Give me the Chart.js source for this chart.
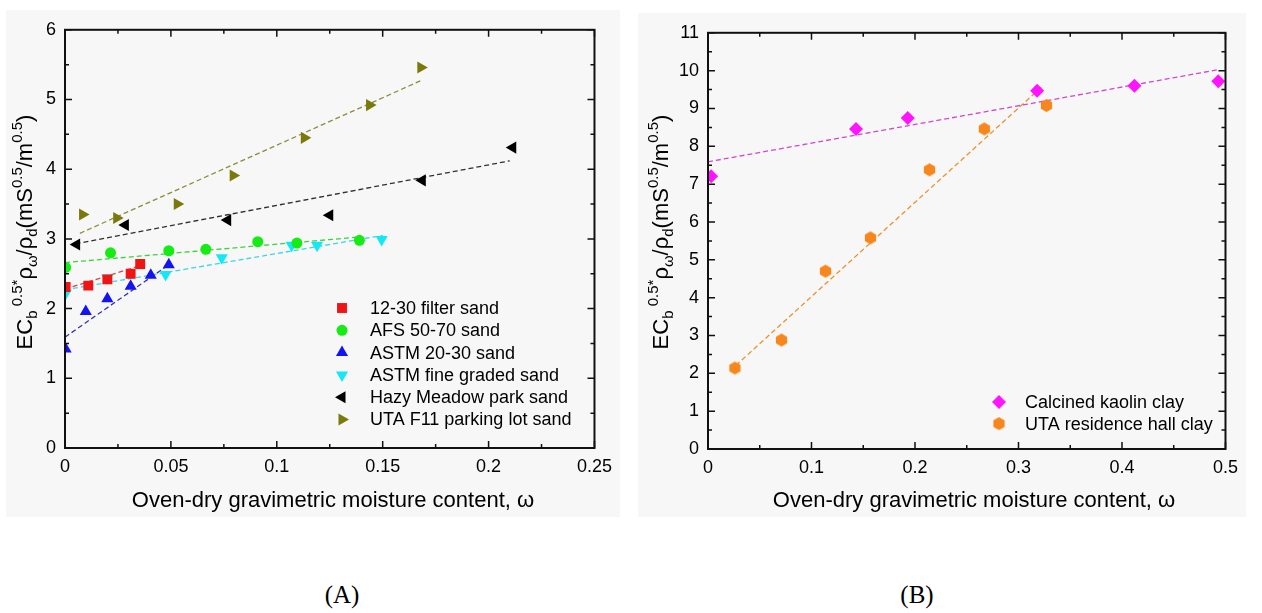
<!DOCTYPE html>
<html>
<head>
<meta charset="utf-8">
<script src="https://cdn.jsdelivr.net/npm/chart.js@4.4.1/dist/chart.umd.min.js"></script>
<style>
  body { margin: 0; background: #fff; width: 1262px; height: 613px; position: relative; overflow: hidden; }
  .panel { position: absolute; background: #f7f7f7; }
  #panelA { left: 6px; top: 10px; width: 614px; height: 507px; }
  #panelB { left: 638px; top: 13px; width: 608px; height: 504px; }
  .caption { position: absolute; top: 581px; font-family: "Liberation Serif", "Times New Roman", serif; font-size: 25px; transform: translateX(-50%); }
</style>
</head>
<body>
<div class="panel" id="panelA"><canvas id="chartA" width="614" height="507"></canvas></div>
<div class="panel" id="panelB"><canvas id="chartB" width="608" height="504"></canvas></div>
<div class="caption" style="left:342px">(A)</div>
<div class="caption" style="left:917px">(B)</div>

<script>
// ---- (A) sands: moisture content w vs EC_b^0.5 * rho_w / rho_d ----
const filterSandW  = [0.0003, 0.011, 0.020, 0.031, 0.0355];
const filterSandEC = [2.31, 2.33, 2.42, 2.50, 2.64];
const afsSandW  = [0.0003, 0.0215, 0.049, 0.0665, 0.091, 0.1095, 0.139];
const afsSandEC = [2.59, 2.80, 2.83, 2.85, 2.96, 2.94, 2.98];
const astm2030W  = [0.0003, 0.0098, 0.020, 0.031, 0.0405, 0.049];
const astm2030EC = [1.42, 1.96, 2.14, 2.32, 2.48, 2.63];
const astmFineW  = [0.0003, 0.0200, 0.0475, 0.074, 0.107, 0.119, 0.1495];
const astmFineEC = [2.22, 2.44, 2.49, 2.73, 2.91, 2.91, 2.99];
const hazyW  = [0.0055, 0.0285, 0.0768, 0.125, 0.1687, 0.2114];
const hazyEC = [2.92, 3.20, 3.27, 3.34, 3.84, 4.31];
const utaF11W  = [0.0083, 0.0244, 0.053, 0.0794, 0.113, 0.1438, 0.168];
const utaF11EC = [3.35, 3.30, 3.50, 3.91, 4.45, 4.92, 5.46];

// dashed fit lines (end points)
const filterFitW = [0, 0.036],  filterFitEC = [2.28, 2.62];
const afsFitW    = [0, 0.14],   afsFitEC    = [2.66, 3.03];
const astm2030FitW = [0, 0.05], astm2030FitEC = [1.59, 2.65];
const astmFineFitW = [0, 0.15], astmFineFitEC = [2.27, 3.05];
const hazyFitW   = [0.005, 0.21], hazyFitEC   = [2.93, 4.12];
const utaF11FitW = [0.007, 0.168], utaF11FitEC = [3.08, 5.27];

const sandTicksW   = [0, 0.05, 0.1, 0.15, 0.2, 0.25];
const sandMinorW   = [0.025, 0.075, 0.125, 0.175, 0.225];
const sandTicksEC  = [0, 1, 2, 3, 4, 5, 6];
const sandMinorEC  = [0.5, 1.5, 2.5, 3.5, 4.5, 5.5];

// ---- (B) clays ----
const kaolinW  = [0.003, 0.143, 0.193, 0.318, 0.412, 0.493];
const kaolinEC = [7.21, 8.46, 8.75, 9.47, 9.60, 9.72];
const residenceW  = [0.026, 0.071, 0.1135, 0.157, 0.214, 0.267, 0.327];
const residenceEC = [2.14, 2.88, 4.70, 5.58, 7.38, 8.46, 9.08];
const kaolinFitW = [0, 0.494],        kaolinFitEC = [7.59, 10.03];
const residenceFitW = [0.027, 0.324], residenceFitEC = [2.21, 9.61];

const clayTicksW  = [0, 0.1, 0.2, 0.3, 0.4, 0.5];
const clayMinorW  = [0.05, 0.15, 0.25, 0.35, 0.45];
const clayTicksEC = [0, 1, 2, 3, 4, 5, 6, 7, 8, 9, 10, 11];
const clayMinorEC = [0.5, 1.5, 2.5, 3.5, 4.5, 5.5, 6.5, 7.5, 8.5, 9.5, 10.5];

const xTitle = 'Oven-dry gravimetric moisture content, \u03c9';
const SANS = '"Liberation Sans", Arial, sans-serif';

function pts(xs, ys) {
    return xs.map((x, i) => ({ x: x, y: ys[i] }));
}

// hexagon marker for the residence hall clay
function hexagon(color, r) {
    const c = document.createElement('canvas');
    c.width = c.height = 2 * r + 2;
    const g = c.getContext('2d');
    g.fillStyle = color;
    g.beginPath();
    for (let k = 0; k < 6; k++) {
        const a = Math.PI / 6 + k * Math.PI / 3;
        const px = r + 1 + r * Math.cos(a), py = r + 1 + r * Math.sin(a);
        if (k === 0) g.moveTo(px, py); else g.lineTo(px, py);
    }
    g.closePath();
    g.fill();
    return c;
}

function markers(label, xs, ys, color, style, rotation, radius) {
    return {
        label: label, data: pts(xs, ys), inLegend: true, order: 1,
        pointStyle: style, rotation: rotation || 0,
        pointRadius: radius, pointHoverRadius: radius,
        backgroundColor: color, borderColor: color, pointBorderWidth: 0,
        showLine: false
    };
}

function fitLine(xs, ys, color) {
    return {
        data: pts(xs, ys), inLegend: false, order: 2,
        showLine: true, borderColor: color, borderWidth: 1.3,
        borderDash: [5, 3], pointRadius: 0, pointHoverRadius: 0, fill: false
    };
}

// draws a string made of normal / sub / sup pieces, rotated for the y title
function drawRich(ctx, parts, x, y, rotate) {
    const big = 22, small = 15;
    const fontOf = p => ((p.sub || p.sup) ? small : big) + 'px ' + SANS;
    let total = 0;
    parts.forEach(p => { ctx.font = fontOf(p); total += ctx.measureText(p.t).width; });
    ctx.save();
    ctx.translate(x, y);
    if (rotate) ctx.rotate(-Math.PI / 2);
    ctx.fillStyle = '#000';
    ctx.textBaseline = 'alphabetic';
    ctx.textAlign = 'left';
    let cx = -total / 2;
    parts.forEach(p => {
        ctx.font = fontOf(p);
        const dy = p.sub ? 5 : (p.sup ? -10 : 0);
        ctx.fillText(p.t, cx, dy);
        cx += ctx.measureText(p.t).width;
    });
    ctx.restore();
}

const yTitleParts = [
    { t: 'EC' }, { t: 'b', sub: true }, { t: ' 0.5*', sup: true },
    { t: '\u03c1' }, { t: '\u03c9', sub: true }, { t: '/\u03c1' }, { t: 'd', sub: true },
    { t: '(mS' }, { t: '0.5', sup: true }, { t: '/m' }, { t: '0.5', sup: true }, { t: ')' }
];

// frame, inward ticks, axis titles and legend
const decorPlugin = {
    id: 'decor',
    afterDatasetsDraw(chart, args, opts) {
        const ctx = chart.ctx, a = chart.chartArea;
        const xs = chart.scales.x, ys = chart.scales.y;
        ctx.save();
        ctx.strokeStyle = '#111';
        ctx.lineWidth = 2;
        ctx.strokeRect(a.left, a.top, a.right - a.left, a.bottom - a.top);
        ctx.lineWidth = 1.5;
        ctx.beginPath();
        const tickX = (vals, len) => vals.forEach(v => {
            const px = xs.getPixelForValue(v);
            ctx.moveTo(px, a.bottom); ctx.lineTo(px, a.bottom - len);
            ctx.moveTo(px, a.top);    ctx.lineTo(px, a.top + len);
        });
        const tickY = (vals, len) => vals.forEach(v => {
            const py = ys.getPixelForValue(v);
            ctx.moveTo(a.left, py);  ctx.lineTo(a.left + len, py);
            ctx.moveTo(a.right, py); ctx.lineTo(a.right - len, py);
        });
        tickX(opts.xMajor, 7); tickX(opts.xMinor, 4);
        tickY(opts.yMajor, 7); tickY(opts.yMinor, 4);
        ctx.stroke();

        // axis titles
        ctx.fillStyle = '#000';
        ctx.font = opts.xTitleSize + 'px ' + SANS;
        ctx.textAlign = 'center';
        ctx.textBaseline = 'alphabetic';
        ctx.fillText(xTitle, opts.xTitleX, opts.xTitleY);
        drawRich(ctx, yTitleParts, opts.yTitleX, opts.yTitleY, true);

        // legend
        const lg = opts.legend;
        let row = 0;
        chart.data.datasets.forEach(ds => {
            if (!ds.inLegend) return;
            const ly = lg.y + row * lg.row;
            ctx.fillStyle = ds.backgroundColor;
            Chart.helpers.drawPoint(ctx, {
                pointStyle: ds.pointStyle, rotation: ds.rotation,
                radius: ds.pointRadius, borderWidth: 0
            }, lg.x, ly);
            ctx.fillStyle = '#000';
            ctx.font = lg.size + 'px ' + SANS;
            ctx.textAlign = 'left';
            ctx.textBaseline = 'middle';
            ctx.fillText(ds.label, lg.textX, ly + 1);
            row++;
        });
        ctx.restore();
    }
};

function axes(xMin, xMax, xTicks, yMin, yMax, yTicks, yWidth, xHeight) {
    const tickFont = { family: SANS, size: 18 };
    return {
        x: {
            type: 'linear', min: xMin, max: xMax,
            grid: { display: false, drawTicks: false }, border: { display: false },
            afterBuildTicks: s => { s.ticks = xTicks.map(v => ({ value: v })); },
            afterFit: s => { s.height = xHeight; },
            ticks: { font: tickFont, color: '#000', padding: 8, autoSkip: false, maxRotation: 0, callback: v => String(v) }
        },
        y: {
            type: 'linear', min: yMin, max: yMax,
            grid: { display: false, drawTicks: false }, border: { display: false },
            afterBuildTicks: s => { s.ticks = yTicks.map(v => ({ value: v })); },
            afterFit: s => { s.width = yWidth; },
            ticks: { font: tickFont, color: '#000', padding: 9, autoSkip: false, callback: v => String(v) }
        }
    };
}

const baseOptions = {
    responsive: false,
    animation: false,
    events: [],
    plugins: { legend: { display: false }, tooltip: { enabled: false } }
};

new Chart(document.getElementById('chartA'), {
    type: 'scatter',
    data: {
        datasets: [
            markers('12-30 filter sand', filterSandW, filterSandEC, '#f01414', 'rect', 0, 7),
            markers('AFS 50-70 sand', afsSandW, afsSandEC, '#14ec14', 'circle', 0, 5.5),
            markers('ASTM 20-30 sand', astm2030W, astm2030EC, '#1414f0', 'triangle', 0, 7),
            markers('ASTM fine graded sand', astmFineW, astmFineEC, '#14e8f6', 'triangle', 180, 7),
            markers('Hazy Meadow park sand', hazyW, hazyEC, '#000000', 'triangle', 270, 7),
            markers('UTA F11 parking lot sand', utaF11W, utaF11EC, '#7a7a0c', 'triangle', 90, 7),
            fitLine(filterFitW, filterFitEC, '#e04040'),
            fitLine(afsFitW, afsFitEC, '#3ed23e'),
            fitLine(astm2030FitW, astm2030FitEC, '#3434b8'),
            fitLine(astmFineFitW, astmFineFitEC, '#3cd6e6'),
            fitLine(hazyFitW, hazyFitEC, '#303030'),
            fitLine(utaF11FitW, utaF11FitEC, '#8c8c3a')
        ]
    },
    options: Object.assign({}, baseOptions, {
        layout: { padding: { top: 7, right: 20, left: 0, bottom: 0 } },
        scales: axes(0, 0.25, sandTicksW, 0, 6, sandTicksEC, 59, 69),
        plugins: Object.assign({}, baseOptions.plugins, {
            decor: {
                xMajor: sandTicksW, xMinor: sandMinorW, yMajor: sandTicksEC, yMinor: sandMinorEC,
                xTitleSize: 22, xTitleX: 327, xTitleY: 497,
                yTitleX: 26, yTitleY: 222,
                legend: { x: 336, y: 298, row: 22.3, textX: 364, size: 18 }
            }
        })
    }),
    plugins: [decorPlugin]
});

new Chart(document.getElementById('chartB'), {
    type: 'scatter',
    data: {
        datasets: [
            markers('Calcined kaolin clay', kaolinW, kaolinEC, '#ff14ff', 'rectRot', 0, 7),
            markers('UTA residence hall clay', residenceW, residenceEC, '#f7861c', hexagon('#f7861c', 6.5), 0, 6.5),
            fitLine(kaolinFitW, kaolinFitEC, '#d048d0'),
            fitLine(residenceFitW, residenceFitEC, '#ea922e')
        ]
    },
    options: Object.assign({}, baseOptions, {
        layout: { padding: { top: 9, right: 8, left: 0, bottom: 0 } },
        scales: axes(0, 0.5, clayTicksW, 0, 11, clayTicksEC, 70, 68),
        plugins: Object.assign({}, baseOptions.plugins, {
            decor: {
                xMajor: clayTicksW, xMinor: clayMinorW, yMajor: clayTicksEC, yMinor: clayMinorEC,
                xTitleSize: 22, xTitleX: 336, xTitleY: 494,
                yTitleX: 30, yTitleY: 219,
                legend: { x: 361, y: 389, row: 21.6, textX: 387, size: 18 }
            }
        })
    }),
    plugins: [decorPlugin]
});
</script>
</body>
</html>
